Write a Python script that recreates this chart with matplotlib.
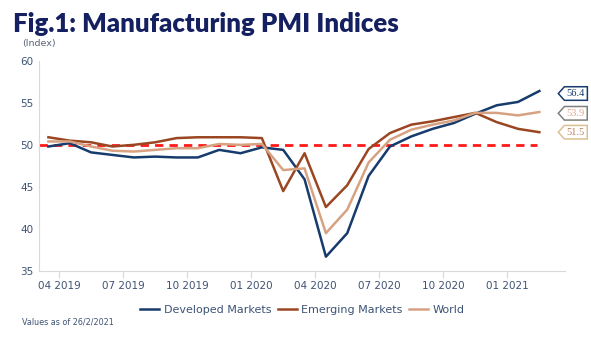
import matplotlib
matplotlib.use("Agg")
import matplotlib.pyplot as plt
from matplotlib.path import Path

# monthly PMI, Mar 2019 .. Feb 2021
months = ["03 2019", "04 2019", "05 2019", "06 2019", "07 2019", "08 2019",
          "09 2019", "10 2019", "11 2019", "12 2019", "01 2020", "02 2020",
          "03 2020", "04 2020", "05 2020", "06 2020", "07 2020", "08 2020",
          "09 2020", "10 2020", "11 2020", "12 2020", "01 2021", "02 2021"]
developed = [49.8, 50.2, 49.1, 48.8, 48.5, 48.6, 48.5, 48.5, 49.4, 49.0, 49.7, 49.4,
             45.9, 36.7, 39.5, 46.3, 49.8, 51.0, 51.9, 52.6, 53.7, 54.7, 55.1, 56.4]
emerging = [50.9, 50.5, 50.3, 49.8, 50.0, 50.3, 50.8, 50.9, 50.9, 50.9, 50.8, 44.5,
            49.0, 42.6, 45.2, 49.5, 51.4, 52.4, 52.8, 53.3, 53.8, 52.7, 51.9, 51.5]
world = [50.4, 50.4, 49.8, 49.3, 49.2, 49.4, 49.6, 49.6, 50.1, 50.0, 50.1, 47.0,
         47.2, 39.5, 42.3, 47.9, 50.6, 51.8, 52.4, 52.9, 53.8, 53.8, 53.5, 53.9]
tick_labels = ["04 2019", "07 2019", "10 2019", "01 2020",
               "04 2020", "07 2020", "10 2020", "01 2021"]
end_labels = ["56.4", "53.9", "51.5"]

NAVY = "#163b6c"
BROWN = "#9a4622"
TAN = "#d6a282"
TXT = "#3d5375"


def pentagon(x0, y0, width, height, mutation_size):
    # box with a pointed left end, the point sits left of the text
    pad = mutation_size * 0.22
    x0, y0 = x0 - pad, y0 - pad
    w, h = width + 2 * pad, height + 2 * pad
    tip = h * 0.45
    verts = [(x0 - tip, y0 + h / 2), (x0, y0), (x0 + w, y0), (x0 + w, y0 + h),
             (x0, y0 + h), (x0 - tip, y0 + h / 2)]
    return Path(verts, [Path.MOVETO] + [Path.LINETO] * 4 + [Path.CLOSEPOLY])


fig = plt.figure(figsize=(5.91, 3.45), dpi=100)
ax = fig.add_axes([0.066, 0.2145, 0.89, 0.6095])

x = list(range(len(months)))
ax.plot(x, developed, color=NAVY, lw=1.8, label="Developed Markets")
ax.plot(x, emerging, color=BROWN, lw=1.8, label="Emerging Markets")
ax.plot(x, world, color=TAN, lw=1.8, label="World")
ax.plot([-0.44, 22.9], [50, 50], color="#ff1a1a", lw=2, dashes=(3, 2.2), zorder=1)

ax.set_xlim(-0.44, 24.2)
ax.set_ylim(35, 60)
ax.set_yticks([35, 40, 45, 50, 55, 60])
ax.set_xticks([i + 0.5 for i in range(0, 24, 3)])
ax.set_xticklabels(tick_labels)
ax.tick_params(axis="y", length=0, labelsize=7.5, labelcolor=TXT, pad=4)
ax.tick_params(axis="x", length=5, color="#d9d9d9", labelsize=7.5, labelcolor=TXT, pad=2)
for s in ["top", "right"]:
    ax.spines[s].set_visible(False)
ax.spines["left"].set_color("#d9d9d9")
ax.spines["bottom"].set_color("#d9d9d9")

# end-of-series value boxes
styles = [(NAVY, NAVY, 56.1), ("#e0a58a", "#7f7f7f", 53.75), ("#b9805c", "#dcc093", 51.5)]
for lab, (tc, ec, yv) in zip(end_labels, styles):
    ax.text(24.28, yv, lab, color=tc, fontsize=7.5, family="Liberation Serif",
            va="center", ha="left", clip_on=False,
            bbox=dict(boxstyle=pentagon, fc="white", ec=ec, lw=1.1))

fig.text(0.022, 0.93, "Fig.1: Manufacturing PMI Indices", fontsize=18.5, fontweight="heavy",
         family="Lato", color="#142060", va="center")
fig.text(0.037, 0.875, "(Index)", fontsize=6.8, color="#5a6478", va="center")
fig.text(0.037, 0.066, "Values as of 26/2/2021", fontsize=5.8, color=TXT, va="center")
fig.legend(loc="center", bbox_to_anchor=(0.512, 0.101), ncol=3, frameon=False,
           fontsize=8, labelcolor=TXT, handlelength=1.7, columnspacing=0.6,
           handletextpad=0.4)

fig.savefig("out.png", dpi=100)
